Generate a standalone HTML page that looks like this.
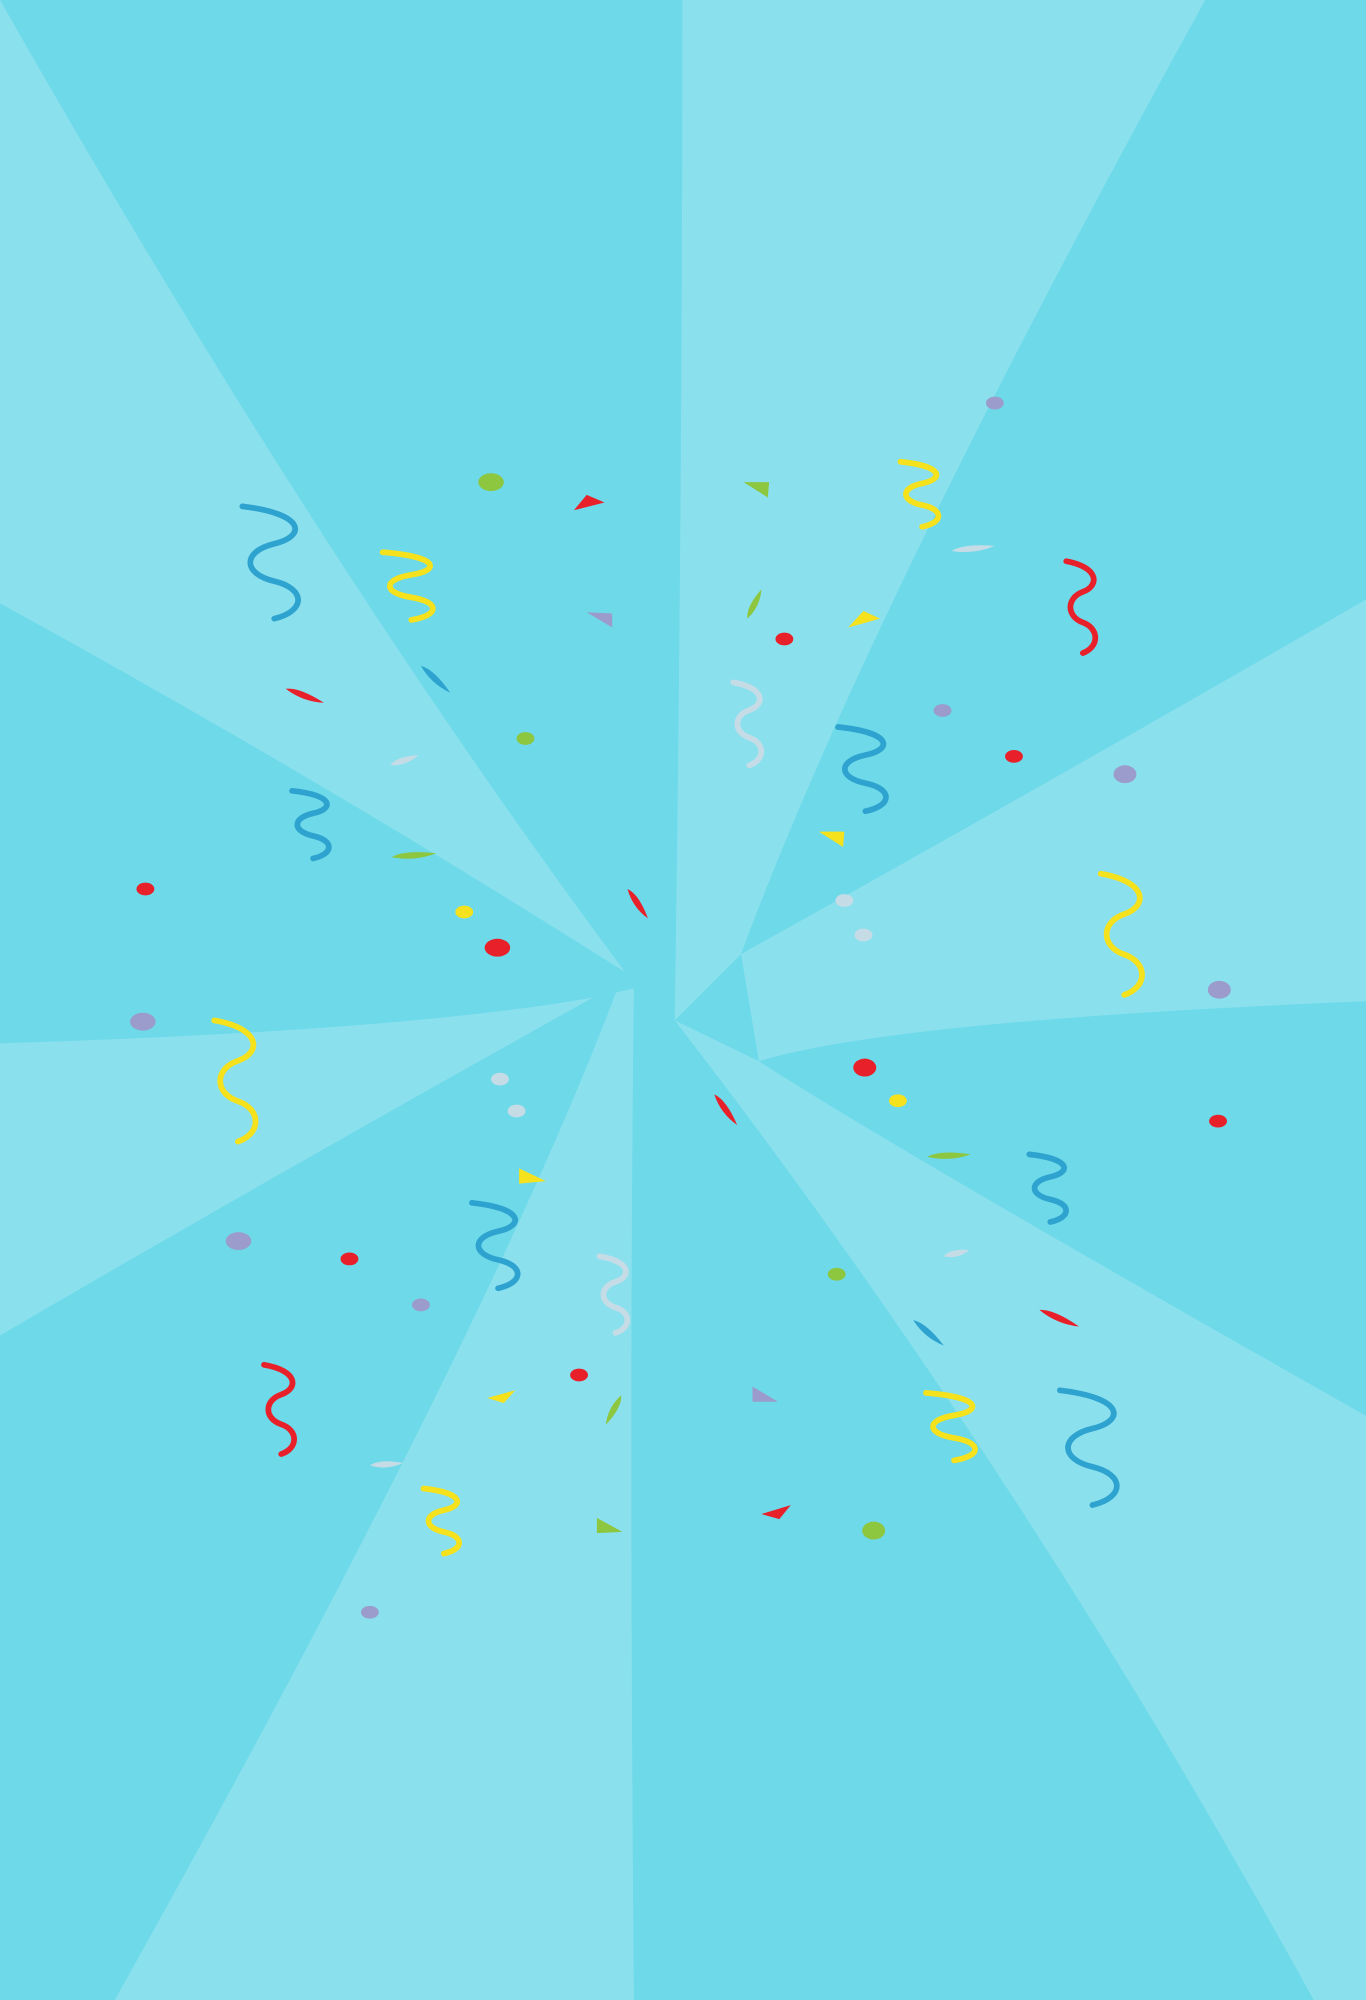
<!DOCTYPE html>
<html><head><meta charset="utf-8"><style>
html,body{margin:0;padding:0;width:1366px;height:2000px;overflow:hidden;background:#6ed9e9}
svg{display:block}
</style></head><body>
<svg id="bg" width="1366" height="2000" viewBox="0 0 1071 1568" preserveAspectRatio="none" xmlns="http://www.w3.org/2000/svg">
<rect x="0" y="0" width="1071" height="1568" fill="#6ed9e9"/>
<g id="rays" fill="#8be0ed">
<path d="M0,0 Q250,440 490,762 Q250,610 0,473 Z"/>
<path d="M535,0 L945,0 Q680,480 581,748 L529,800 Q535,400 535,0 Z"/>
<path d="M1071,470 L1071,785 Q700,800 595,832 L581,748 Q820,615 1071,470 Z"/>
<path d="M529,800 Q800,1150 1030,1568 L1071,1568 L1071,1110 Q700,900 595,832 Z"/>
<path d="M90,1568 Q380,1050 483,778 L497,775 Q493,1100 497,1568 Z"/>
<path d="M0,818 Q320,808 465,782 Q200,930 0,1047 Z"/>
</g>
<g id="confetti"></g>
</svg>
<script>
var C={r:'#e8202a',y:'#f5e11c',g:'#8dc63f',b:'#2ea3cf',p:'#9b9ccb',w:'#c5dce6'};
var dots=[['g',385,378,10,7],['r',615,501,7,5],['p',780,316,7,5],['p',739,557,7,5],['r',795,593,7,5],['p',882,607,9,7],['g',412,579,7,5],['r',114,697,7,5],['y',364,715,7,5],['r',390,743,10,7],['p',112,801,10,7],['w',662,706,7,5],['w',677,733,7,5],['p',956,776,9,7],['r',678,837,9,7],['y',704,863,7,5],['r',955,879,7,5],['w',392,846,7,5],['w',405,871,7,5],['p',187,973,10,7],['r',274,987,7,5],['p',330,1023,7,5],['g',656,999,7,5],['r',454,1078,7,5],['g',685,1200,9,7],['p',290,1264,7,5]];
var tris=[['r',450,400,460,388,474,394],['g',583,378,603,378,602,390],['p',460,480,480,481,480,492],['y',665,492,677,479,690,485],['y',642,652,662,652,661,664],['y',407,916,407,928,428,926],['y',382,1096,404,1090,395,1100],['p',590,1087,590,1099,610,1099],['r',597,1187,620,1180,611,1191],['g',468,1190,468,1202,488,1201]];
var petals=[['r',224,540,254,551],['b',330,522,353,543],['g',307,672,342,669],['w',306,600,328,592],['r',492,697,508,720],['g',586,485,597,462],['g',727,907,761,905],['r',560,858,578,882],['b',716,1035,740,1055],['r',815,1027,846,1040],['w',740,985,760,980],['g',487,1094,475,1117],['w',290,1149,316,1147],['w',746,432,780,428]];
var curls=[['b',190,397,240,485],['y',300,433,345,486],['b',229,620,262,673],['y',706,362,740,413],['r',836,440,862,512],['w',575,535,600,600],['b',657,570,700,636],['y',863,685,900,780],['y',168,800,205,895],['b',807,905,840,958],['b',370,943,411,1010],['w',470,985,495,1045],['r',207,1070,234,1140],['y',726,1092,770,1145],['b',831,1090,882,1180],['y',332,1167,364,1218]];
var NS='http://www.w3.org/2000/svg',g=document.getElementById('confetti');
function mk(t){return document.createElementNS(NS,t);}
dots.forEach(function(d){var e=mk('ellipse');


e.setAttribute('cx',d[1]);e.setAttribute('cy',d[2]);e.setAttribute('rx',d[3]);e.setAttribute('ry',d[4]);e.setAttribute('fill',C[d[0]]);g.appendChild(e);});
tris.forEach(function(d){var e=mk('polygon');


e.setAttribute('points',d.slice(1).join(' '));e.setAttribute('fill',C[d[0]]);g.appendChild(e);});
petals.forEach(function(d){var e=mk('path');


var x1=d[1],y1=d[2],x2=d[3],y2=d[4],dx=x2-x1,dy=y2-y1,L=Math.hypot(dx,dy),nx=-dy/L*5,ny=dx/L*5;
e.setAttribute('d','M'+x1+','+y1+' Q'+(x1+dx*0.5+nx)+','+(y1+dy*0.5+ny)+' '+x2+','+y2+' Q'+(x1+dx*0.3-nx)+','+(y1+dy*0.3-ny)+' '+x1+','+y1+'Z');
e.setAttribute('fill',C[d[0]]);g.appendChild(e);});
curls.forEach(function(d){var e=mk('path');


var x1=d[1],y1=d[2],x2=d[3],y2=d[4],w=x2-x1,h=y2-y1,s='M'+x1+','+y1;
var n=3;for(var i=0;i<n;i++){var ya=y1+h*i/n,yb=y1+h*(i+1)/n,side=i%2?x1:x2;
s+=' C'+side+','+(ya+(yb-ya)*0.2)+' '+side+','+(ya+(yb-ya)*0.8)+' '+(x1+w*0.5)+','+yb;}
e.setAttribute('d',s);e.setAttribute('fill','none');e.setAttribute('stroke',C[d[0]]);e.setAttribute('stroke-width','4.5');e.setAttribute('stroke-linecap','round');g.appendChild(e);});
</script>
</body></html>
